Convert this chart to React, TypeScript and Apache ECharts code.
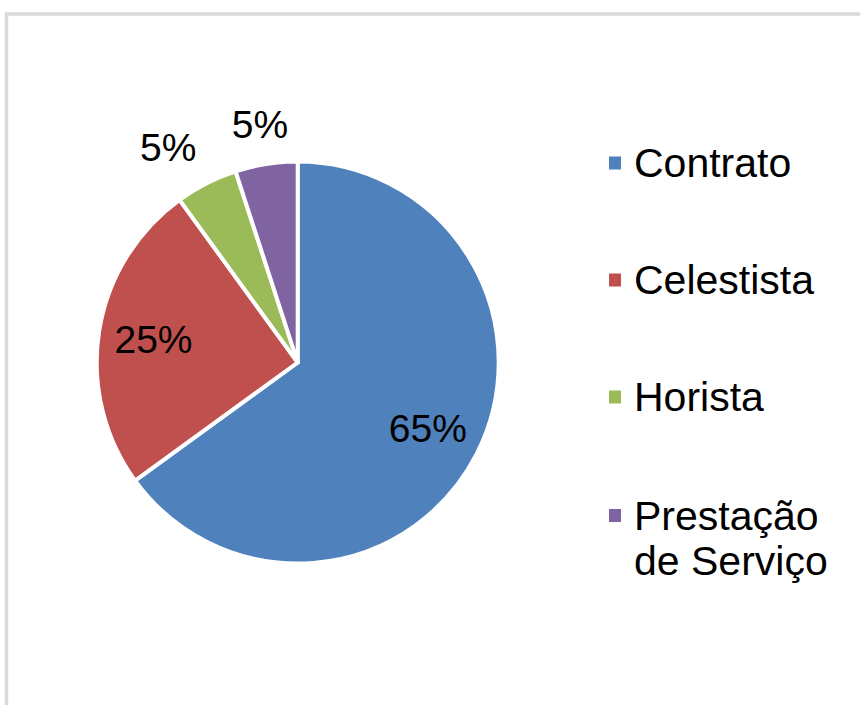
import React, { useEffect, useRef } from "react";
import * as echarts from "echarts";

const categories = ["Contrato", "Celestista", "Horista", "Prestação\nde Serviço"];
const values = [65, 25, 5, 5];
const colors = ["#4f81bd", "#c0504d", "#9bbb59", "#8064a2"];
const labelPlacement = ["inside", "inside", "outside", "outside"];

const FONT = "'Liberation Sans', Arial, sans-serif";

export default function App() {
  const ref = useRef<HTMLDivElement>(null);

  useEffect(() => {
    if (!ref.current) return;
    const chart = echarts.init(ref.current, undefined, { renderer: "svg" });

    const center = [297.7, 362.5];
    const labelPie = (radius: number[], placement: string) => ({
      type: "pie",
      silent: true,
      center,
      radius,
      startAngle: 90,
      clockwise: true,
      avoidLabelOverlap: false,
      z: 5,
      itemStyle: { color: "rgba(0,0,0,0)", borderWidth: 0 },
      label: {
        show: true,
        position: "inside",
        formatter: "{d}%",
        fontSize: 39,
        color: "#000",
        fontFamily: FONT,
      },
      labelLine: { show: false },
      emphasis: { disabled: true },
      data: values.map((v, i) => ({
        value: v,
        label: {
          show: labelPlacement[i] === placement,
          // Excel's best-fit pushes the left-hand outside label a little further left
          offset: i === 2 ? [-20, 0] : [0, 0],
        },
      })),
    });

    const legendText = {
      fontSize: 41,
      lineHeight: 45,
      color: "#000",
      fontFamily: FONT,
      padding: [0, 0, 0, 7],
    };

    chart.setOption({
      animation: false,
      backgroundColor: "#fff",
      graphic: [
        {
          type: "rect",
          silent: true,
          z: -10,
          shape: { x: 6.5, y: 14, width: 1000, height: 1000 },
          style: { fill: "none", stroke: "#d9d9d9", lineWidth: 3.5 },
        },
      ],
      legend: [
        {
          orient: "vertical",
          left: 607,
          top: 140.5,
          padding: 0,
          itemWidth: 14,
          itemHeight: 15,
          itemGap: 72,
          icon: "rect",
          selectedMode: false,
          textStyle: legendText,
          data: categories.slice(0, 3),
        },
        {
          orient: "vertical",
          left: 607,
          top: 448,
          padding: 0,
          itemWidth: 14,
          itemHeight: 15,
          icon: "rect",
          selectedMode: false,
          textStyle: legendText,
          // a leading empty line keeps the icon level with the first line of text
          formatter: (name: string) => "\n" + name,
          data: categories.slice(3),
        },
      ],
      series: [
        {
          type: "pie",
          silent: true,
          center,
          radius: [0, 201],
          startAngle: 90,
          clockwise: true,
          label: { show: false },
          labelLine: { show: false },
          emphasis: { disabled: true },
          itemStyle: { borderColor: "#fff", borderWidth: 4 },
          data: categories.map((c, i) => ({
            name: c,
            value: values[i],
            itemStyle: { color: colors[i] },
          })),
        },
        labelPie([83, 203], "inside"),
        labelPie([218, 258], "outside"),
      ],
    });

    return () => chart.dispose();
  }, []);

  return (
    <div
      ref={ref}
      style={{ position: "fixed", left: 0, top: 0, width: 860, height: 705 }}
    />
  );
}
